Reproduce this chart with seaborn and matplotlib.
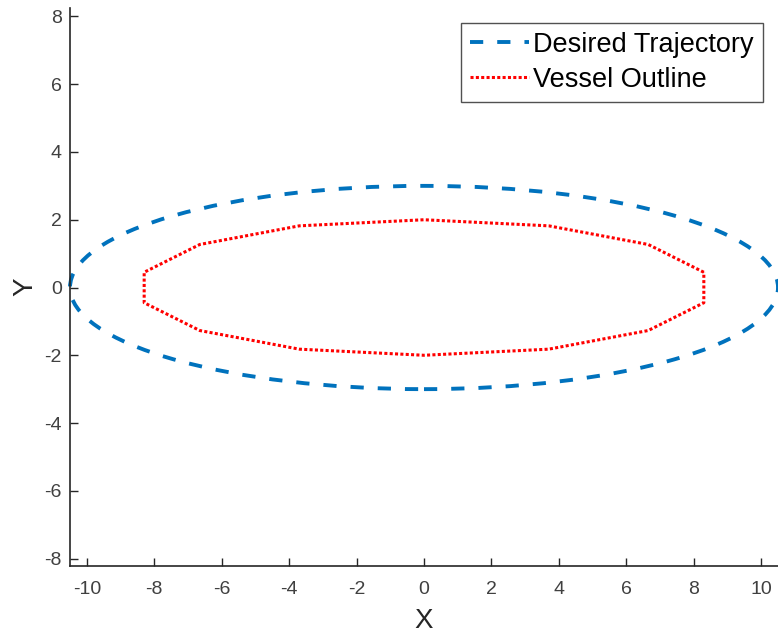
import matplotlib
matplotlib.use("Agg")
import matplotlib.pyplot as plt
from matplotlib.patches import Ellipse
from matplotlib.lines import Line2D
import seaborn as sns
import pandas as pd

# Desired trajectory: ellipse centred at the origin
traj_center = (0.0, 0.0)
traj_semi_x = 10.5
traj_semi_y = 3.0

# Vessel outline vertices (closed polygon)
vessel_x = [8.3, 6.65, 3.7, 0.0, -3.7, -6.65, -8.3, -8.3, -6.65, -3.7, 0.0, 3.7, 6.65, 8.3, 8.3]
vessel_y = [0.45, 1.27, 1.82, 2.0, 1.82, 1.27, 0.45, -0.45, -1.27, -1.82, -2.0, -1.82, -1.27, -0.45, 0.45]

x_ticks = [-10, -8, -6, -4, -2, 0, 2, 4, 6, 8, 10]
y_ticks = [-8, -6, -4, -2, 0, 2, 4, 6, 8]

sns.set_theme(style="white")
plt.rcParams["font.family"] = ["Liberation Sans", "DejaVu Sans"]

blue = "#0072BD"
red = "#FF0000"
grey = "#262626"

fig = plt.figure(figsize=(7.78, 6.35), dpi=100)
ax = fig.add_axes([70 / 778, 69 / 635, 708 / 778, 558 / 635])

traj_style = (0, (3.4, 3.6))
vessel_style = (0, (1.0, 0.75))

ax.add_patch(Ellipse(traj_center, 2 * traj_semi_x, 2 * traj_semi_y,
                     fill=False, edgecolor=blue, linewidth=2.8,
                     linestyle=traj_style, clip_on=False))

df = pd.DataFrame({"x": vessel_x, "y": vessel_y})
sns.lineplot(data=df, x="x", y="y", sort=False, estimator=None, ax=ax,
             color=red, linewidth=2.2, linestyle=vessel_style)

ax.set_xlim(-10.5, 10.5)
ax.set_ylim(-8.22, 8.25)
ax.set_xticks(x_ticks)
ax.set_yticks(y_ticks)
ax.set_xticklabels([str(v) for v in x_ticks])
ax.set_yticklabels([str(v) for v in y_ticks])

for side in ["top", "right"]:
    ax.spines[side].set_visible(False)
for side in ["left", "bottom"]:
    ax.spines[side].set_color(grey)
    ax.spines[side].set_linewidth(1.2)

ax.tick_params(axis="both", direction="in", length=6, width=1.0,
               colors=grey, labelsize=14, labelcolor="#404040",
               left=True, bottom=True)
ax.tick_params(axis="x", pad=11)
ax.tick_params(axis="y", pad=6)

ax.set_xlabel("X", fontsize=20, color=grey)
ax.set_ylabel("Y", fontsize=20, color=grey, rotation=90)
ax.xaxis.set_label_coords(0.5, -0.076)
ax.yaxis.set_label_coords(-0.045, 0.5)

handles = [
    Line2D([], [], color=blue, linewidth=2.8, linestyle=traj_style),
    Line2D([], [], color=red, linewidth=2.2, linestyle=vessel_style),
]
leg = ax.legend(handles, ["Desired Trajectory", "Vessel Outline"],
                loc="upper right", bbox_to_anchor=(763 / 778, 1 - 23 / 635),
                bbox_transform=fig.transFigure,
                fontsize=19.5, frameon=True, fancybox=False,
                handlelength=2.2, handletextpad=0.15, borderpad=0.33,
                labelspacing=0.33, borderaxespad=0)
leg.get_frame().set_edgecolor(grey)
leg.get_frame().set_linewidth(1.0)
for t in leg.get_texts():
    t.set_color("black")

fig.savefig("out.png", dpi=100)
